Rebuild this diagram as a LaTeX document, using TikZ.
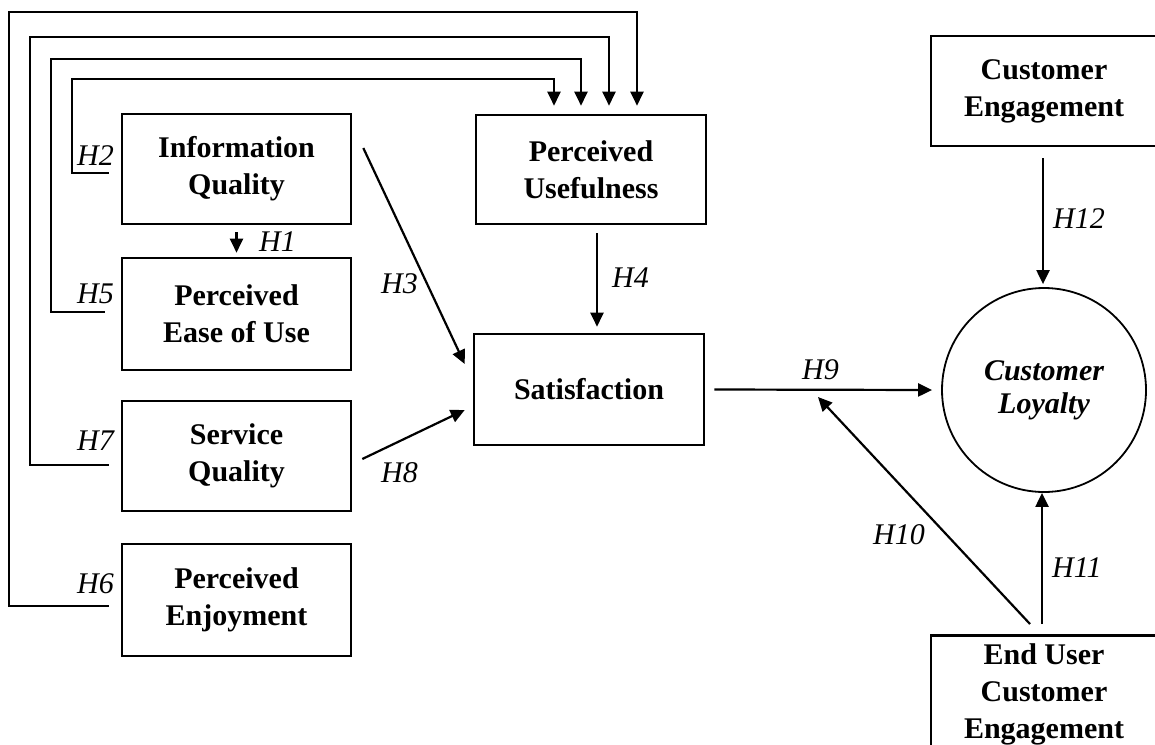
\documentclass[tikz,border=0pt]{standalone}
\usepackage{fontspec}
\setmainfont{Liberation Serif}
\usetikzlibrary{arrows.meta}
\begin{document}
\begin{tikzpicture}[x=1pt,y=-1pt,
  box/.style={draw, line width=2.6pt, rectangle, align=center,
    font=\fontsize{30}{37}\selectfont\bfseries, inner sep=0pt},
  conn/.style={line width=2.2pt, -{Triangle[length=14pt,width=13pt]}},
  hlab/.style={font=\fontsize{30}{37}\selectfont\itshape, anchor=base west, inner sep=0pt}]
\useasboundingbox (0,0) rectangle (1155,744);
\fill[white] (0,0) rectangle (1155,744);

% boxes
\node[box, minimum width=229pt, minimum height=110pt] (iq) at (236.5,169) {Information\\Quality};
\node[box, minimum width=229pt, minimum height=112pt] (pe) at (236.5,314) {Perceived\\Ease of Use};
\node[box, minimum width=229pt, minimum height=110pt] (sq) at (236.5,456) {Service\\Quality};
\node[box, minimum width=229pt, minimum height=112pt] (pj) at (236.5,600) {Perceived\\Enjoyment};
\node[box, minimum width=230pt, minimum height=109pt] (pu) at (591,169.5) {Perceived\\Usefulness};
\node[box, minimum width=230pt, minimum height=111pt] (sat) at (589,389.5) {Satisfaction};
\node[box, minimum width=226pt, minimum height=110pt] (ce) at (1044,91) {Customer\\Engagement};
\node[draw, circle, line width=1.8pt, minimum size=204pt, inner sep=0pt, align=center,
  font=\fontsize{30}{33}\selectfont\bfseries\itshape] (cl) at (1044,390) {Customer\\Loyalty};
\node[box, minimum width=226pt, anchor=north, inner xsep=0pt, inner ysep=8.5pt] (eu) at (1044,634) {End User\\Customer\\Engagement};
\coordinate (h10end) at (818,397);

% left feedback loops into Perceived Usefulness
\draw[conn] ([xshift=-12pt,yshift=-4pt]iq.west) -- ++(-37,0) |- ([xshift=-37pt,yshift=35pt]pu.north) -- ([xshift=-37pt,yshift=8pt]pu.north);
\draw[conn] ([xshift=-16pt,yshift=2pt]pe.west) -- ++(-54,0) |- ([xshift=-10pt,yshift=55pt]pu.north) -- ([xshift=-10pt,yshift=8pt]pu.north);
\draw[conn] ([xshift=-12pt,yshift=-9pt]sq.west) -- ++(-79,0) |- ([xshift=18pt,yshift=77pt]pu.north) -- ([xshift=18pt,yshift=8pt]pu.north);
\draw[conn] ([xshift=-12pt,yshift=-6pt]pj.west) -- ++(-100,0) |- ([xshift=46pt,yshift=102pt]pu.north) -- ([xshift=46pt,yshift=8pt]pu.north);

% other connectors
\draw[conn] ([yshift=-7pt]iq.south) -- ([yshift=4pt]pe.north);
\draw[conn] ([xshift=11pt,yshift=21pt]iq.east) -- ([xshift=-8pt,yshift=25.5pt]sat.west);
\draw[conn] ([xshift=10pt,yshift=-3pt]sq.east) -- ([xshift=-8pt,yshift=-20.5pt]sat.west);
\draw[conn] ([xshift=6pt,yshift=-8pt]pu.south) -- ([xshift=8pt,yshift=6pt]sat.north);
\draw[conn] ([xshift=9pt]sat.east) -- ([xshift=-9pt]cl.west);
\draw[conn] ([xshift=-1pt,yshift=-11pt]ce.south) -- ([xshift=-1pt,yshift=3pt]cl.north);
\draw[conn] ([xshift=-2pt,yshift=10pt]eu.north) -- ([xshift=-2pt]cl.south);
\draw[conn] ([xshift=-14pt,yshift=10pt]eu.north) -- (h10end);

% hypothesis labels
\node[hlab] (l1) at (259,251) {H1};
\node[hlab] (l2) at (77,165) {H2};
\node[hlab] (l3) at (381,293) {H3};
\node[hlab] (l4) at (612,287) {H4};
\node[hlab] (l5) at (77,303) {H5};
\node[hlab] (l6) at (77,593) {H6};
\node[hlab] (l7) at (77,450) {H7};
\node[hlab] (l8) at (381,482) {H8};
\node[hlab] (l9) at (802,379) {H9};
\node[hlab] (l10) at (873,544) {H10};
\node[hlab] (l11) at (1052,577) {H11};
\node[hlab] (l12) at (1053,228) {H12};
\end{tikzpicture}
\end{document}
